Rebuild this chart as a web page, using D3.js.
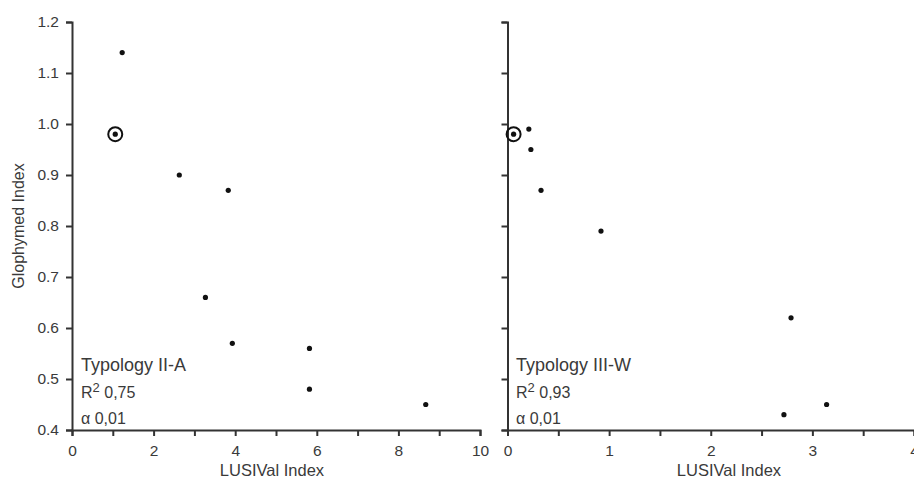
<!DOCTYPE html>
<html lang="en">
<head>
<meta charset="utf-8" />
<title>Glophymed vs LUSIVal</title>
<script src="https://d3js.org/d3.v7.min.js"></script>
<style>
    body { margin: 0; padding: 0; background: #fff; }
    text { font-family: "Liberation Sans", Arial, sans-serif; fill: #3a3a3a; }
</style>
</head>
<body>
<svg id="chart"></svg>
<script>
    var w = 914;
    var h = 480;

    // Typology II-A
    var lusivalA = [1.23, 1.06, 2.63, 3.83, 3.27, 3.93, 5.82, 5.82, 8.67];
    var glophymedA = [1.14, 0.98, 0.90, 0.87, 0.66, 0.57, 0.56, 0.48, 0.45];
    // Typology III-W
    var lusivalW = [0.06, 0.21, 0.23, 0.33, 0.92, 2.79, 2.72, 3.14];
    var glophymedW = [0.98, 0.99, 0.95, 0.87, 0.79, 0.62, 0.43, 0.45];
    // index of the circled point in each panel
    var circledA = 1;
    var circledW = 0;

    var yTicks = [0.4, 0.5, 0.6, 0.7, 0.8, 0.9, 1.0, 1.1, 1.2];
    var xTicksA = [0, 2, 4, 6, 8, 10];
    var xTicksW = [0, 1, 2, 3, 4];

    var svg = d3.select("#chart")
        .attr("width", w)
        .attr("height", h);

    var yScale = d3.scaleLinear().domain([0.4, 1.2]).range([430, 22]);

    var panels = [
        { xs: lusivalA, ys: glophymedA, circled: circledA, domain: [0, 10], range: [72, 480],
          ticks: xTicksA, minor: d3.range(0, 11, 1), yLabels: true,
          title: "Typology II-A", r2: "0,75", tx: 81, titleX: 272 },
        { xs: lusivalW, ys: glophymedW, circled: circledW, domain: [0, 4], range: [507.5, 914],
          ticks: xTicksW, minor: d3.range(0, 4.01, 0.5), yLabels: false,
          title: "Typology III-W", r2: "0,93", tx: 516, titleX: 729 }
    ];

    panels.forEach(function(p) {
        var xScale = d3.scaleLinear().domain(p.domain).range(p.range);
        var g = svg.append("g");

        // x axis: minor ticks every step, labels on major ticks
        var xAxis = d3.axisBottom(xScale)
            .tickValues(p.minor)
            .tickSize(6)
            .tickFormat(function(d) { return p.ticks.indexOf(d) >= 0 ? d3.format("d")(d) : ""; });
        var gx = g.append("g")
            .attr("transform", "translate(0," + yScale(0.4) + ")")
            .call(xAxis);
        gx.select(".domain").attr("stroke", "#333").attr("stroke-width", 2);
        gx.selectAll(".tick line").attr("stroke", "#333").attr("stroke-width", 2);
        gx.selectAll(".tick text")
            .attr("font-size", "15.5px")
            .attr("y", 12)
            .attr("dy", "0.9em")
            .style("font-family", "Liberation Sans, Arial, sans-serif")
            .attr("fill", "#3a3a3a");

        // y axis
        var yAxis = d3.axisLeft(yScale)
            .tickValues(yTicks)
            .tickSize(6)
            .tickFormat(p.yLabels ? d3.format(".1f") : "");
        var gy = g.append("g")
            .attr("transform", "translate(" + xScale(0) + ",0)")
            .call(yAxis);
        gy.select(".domain").attr("stroke", "#333").attr("stroke-width", 2);
        gy.selectAll(".tick line").attr("stroke", "#333").attr("stroke-width", 2);
        gy.selectAll(".tick text")
            .attr("font-size", "15.5px")
            .attr("x", -13)
            .style("font-family", "Liberation Sans, Arial, sans-serif")
            .attr("fill", "#3a3a3a");

        // x axis title
        g.append("text")
            .attr("x", p.titleX)
            .attr("y", 476)
            .attr("text-anchor", "middle")
            .attr("font-size", "16.5px")
            .text("LUSIVal Index");

        // points
        var pts = d3.range(p.xs.length);
        g.selectAll("circle.pt")
            .data(pts)
            .enter().append("circle")
            .attr("class", "pt")
            .attr("cx", function(i) { return xScale(p.xs[i]); })
            .attr("cy", function(i) { return yScale(p.ys[i]); })
            .attr("r", 2.6)
            .attr("fill", "#111");

        // ring round the reference point
        g.append("circle")
            .attr("cx", xScale(p.xs[p.circled]))
            .attr("cy", yScale(p.ys[p.circled]))
            .attr("r", 7)
            .attr("fill", "none")
            .attr("stroke", "#111")
            .attr("stroke-width", 2);

        // annotation
        g.append("text")
            .attr("x", p.tx).attr("y", 371)
            .attr("font-size", "18px")
            .text(p.title);
        var r = g.append("text")
            .attr("x", p.tx).attr("y", 398)
            .attr("font-size", "16px");
        r.append("tspan").text("R");
        r.append("tspan").attr("dy", -6).attr("font-size", "13px").text("2");
        r.append("tspan").attr("dy", 6).text(" " + p.r2);
        g.append("text")
            .attr("x", p.tx).attr("y", 424)
            .attr("font-size", "16px")
            .text("\u03b1 0,01");
    });

    // y axis title
    svg.append("text")
        .attr("transform", "translate(24," + yScale(0.8) + ") rotate(-90)")
        .attr("text-anchor", "middle")
        .attr("font-size", "16px")
        .text("Glophymed Index");
</script>
</body>
</html>
